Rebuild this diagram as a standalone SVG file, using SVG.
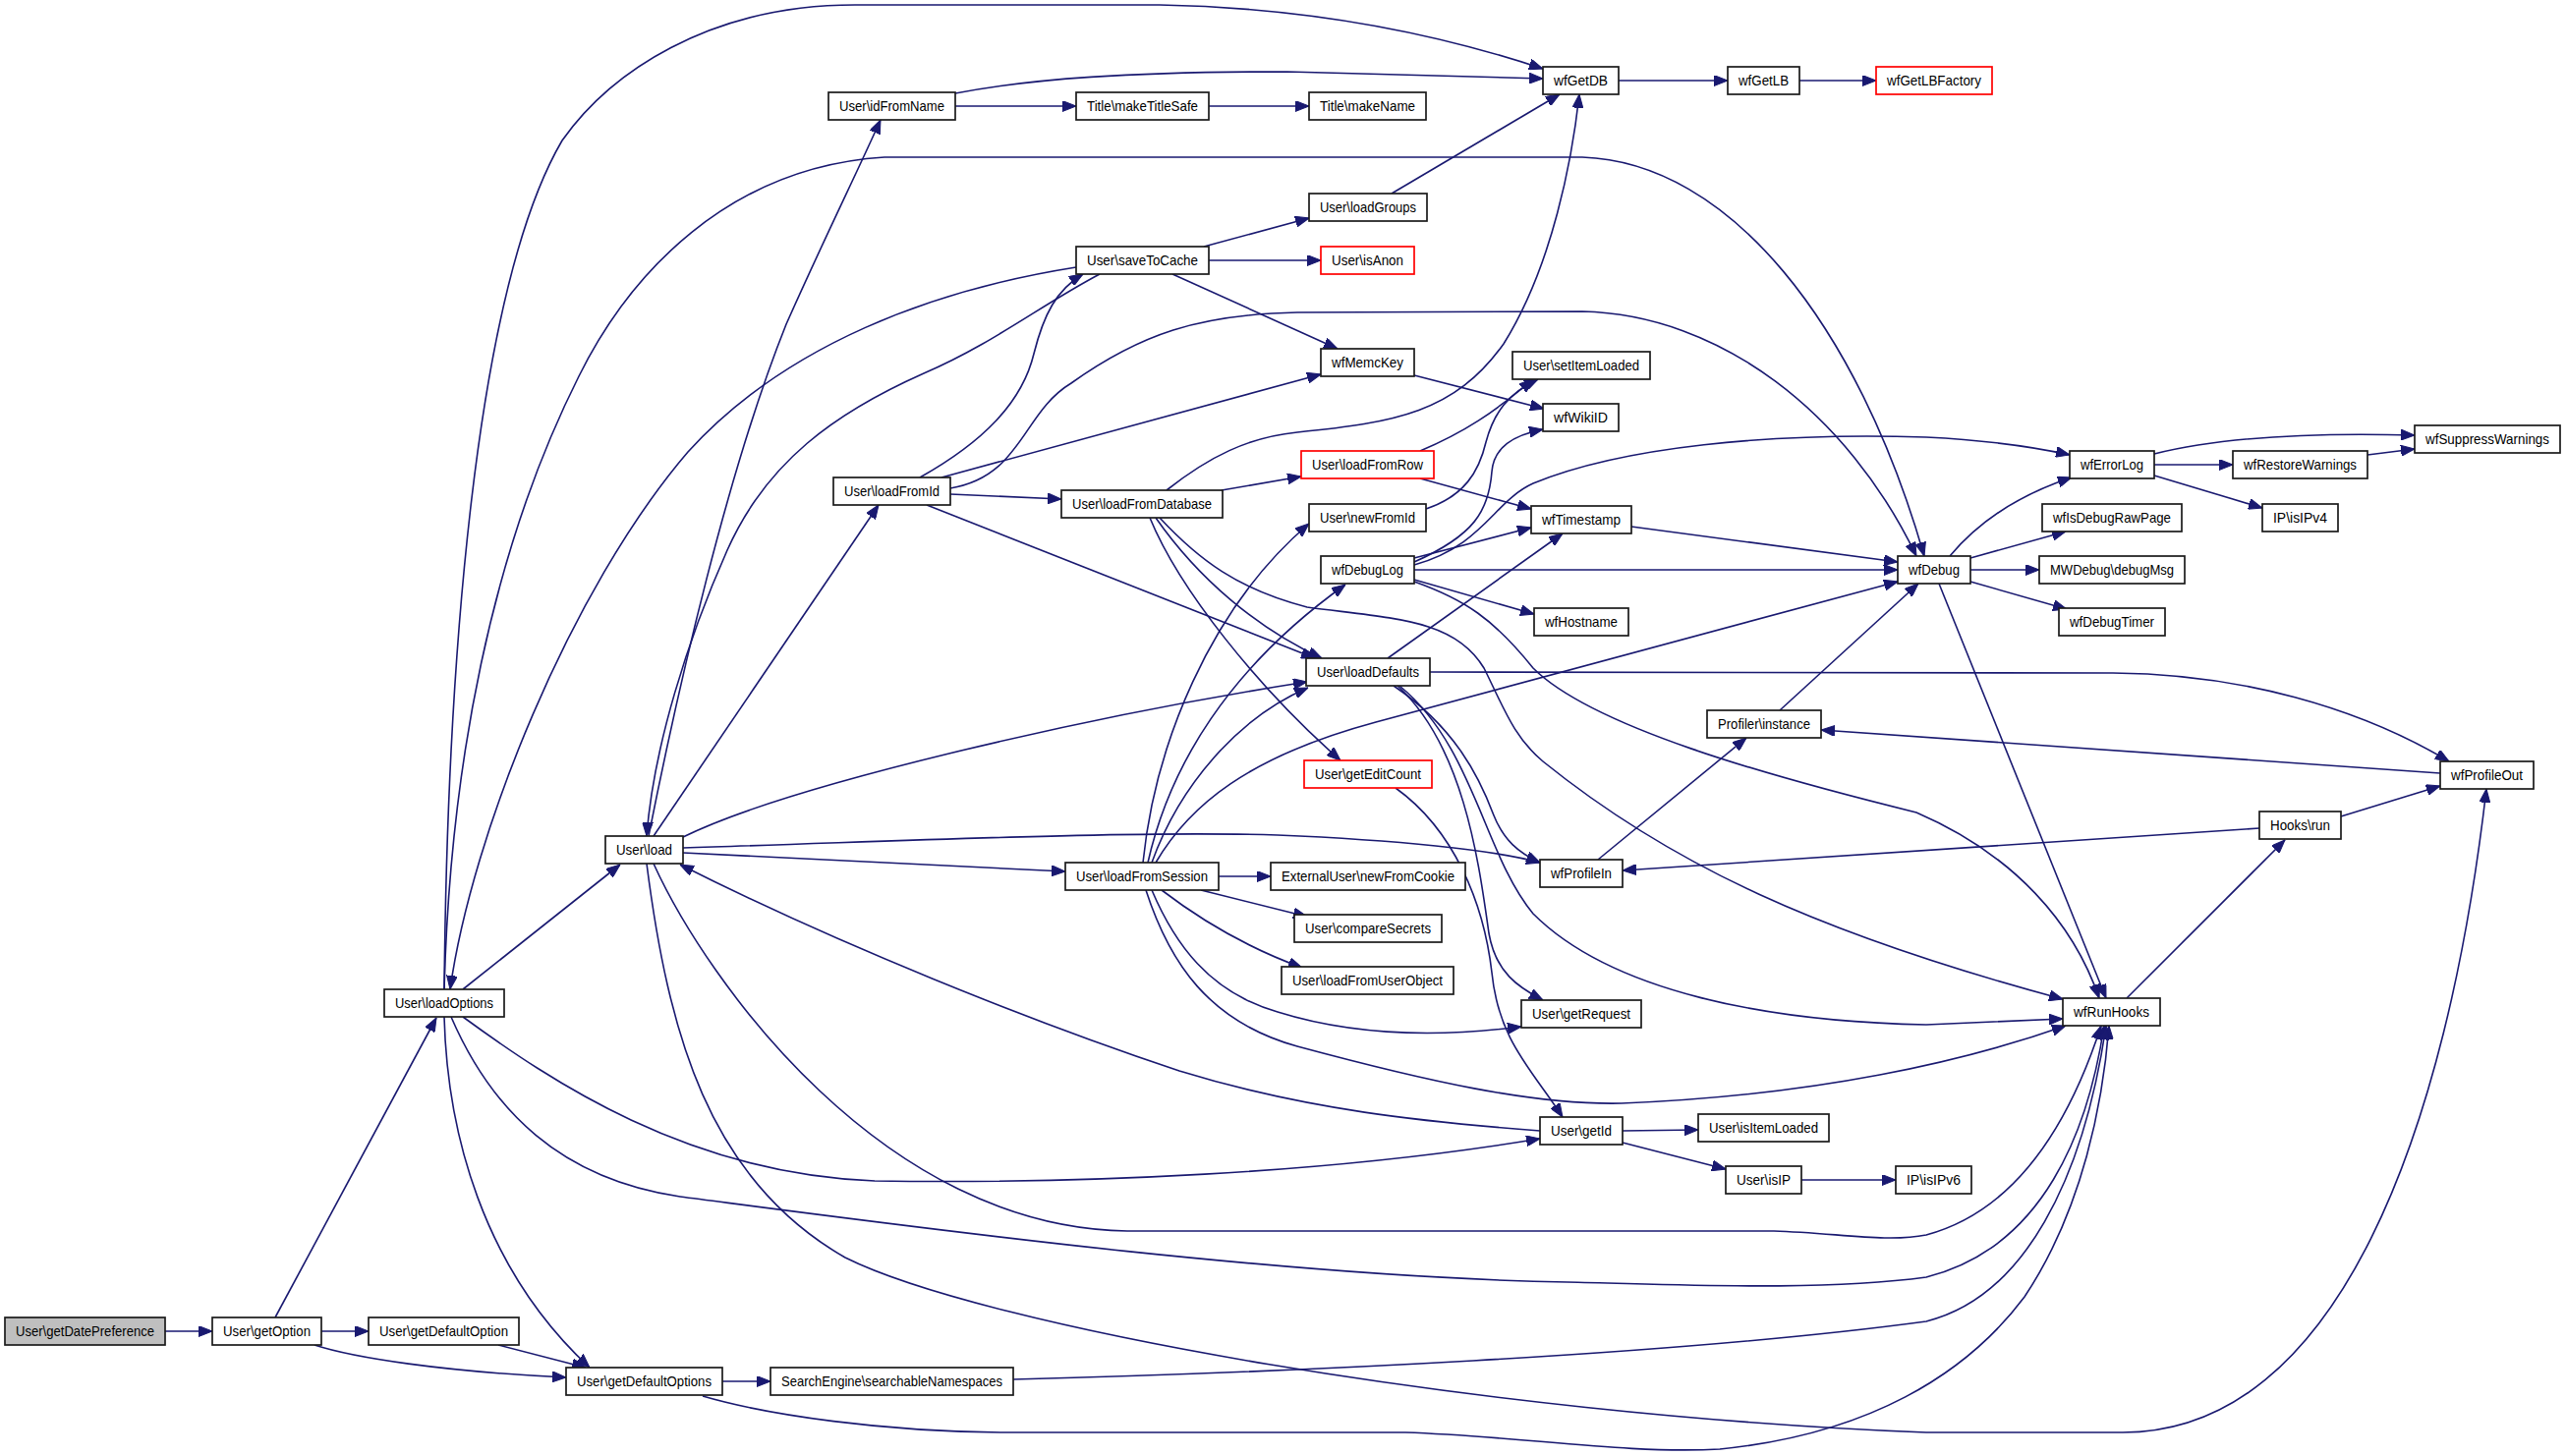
<svg xmlns="http://www.w3.org/2000/svg" width="2611" height="1482" viewBox="0 0 2611 1482">
<style>
.node rect{fill:#fff;stroke:#1a1a1a;stroke-width:1.7}
.node.red rect{stroke:#ff0000}
.node.root rect{fill:#bfbfbf}
.node text{font-family:"Liberation Sans",Arial,sans-serif;font-size:14.5px;fill:#000;text-anchor:middle}
.edges path{fill:none;stroke:#191970;stroke-width:1.6;marker-end:url(#arr)}
</style>
<defs>
<marker id="arr" markerUnits="userSpaceOnUse" markerWidth="14" markerHeight="11" refX="14" refY="5.5" orient="auto" viewBox="0 0 14 11">
<path d="M0,0 L14,5.5 L0,11 Z" fill="#191970" stroke="#191970" stroke-width="1"/>
</marker>
</defs>
<rect x="0" y="0" width="2611" height="1482" fill="#fff"/>
<g class="edges" id="edges">
<path d="M168,1355 L216,1355"/>
<path d="M280,1341 L444,1036"/>
<path d="M327,1355 L375,1355"/>
<path d="M320,1369 C360,1382 450,1396 576,1402"/>
<path d="M507,1369 L596,1392"/>
<path d="M452,1035 C455,1150 490,1290 600,1392"/>
<path d="M735,1406 L784,1406"/>
<path d="M471,1007 L631,880"/>
<path d="M452,1007 C455,700 480,300 572,143 C620,75 720,5 870,5 L1180,5 C1350,8 1480,40 1570,70"/>
<path d="M452,1007 C458,780 500,560 589,383 C640,280 740,170 900,160 L1610,160 C1760,165 1890,330 1958,566"/>
<path d="M471,1035 C560,1100 700,1195 890,1202 C1100,1205 1350,1195 1567,1159"/>
<path d="M459,1035 C500,1130 570,1200 692,1218 C900,1245 1300,1300 1595,1305 C1700,1307 1850,1315 1960,1300 C2080,1270 2125,1150 2141,1044"/>
<path d="M1095,272 C950,295 800,350 700,460 C580,600 480,850 458,1007"/>
<path d="M1119,279 C1060,310 1010,350 940,380 C850,420 780,470 740,560 C700,650 665,760 658,851"/>
<path d="M660,851 C690,700 740,480 800,330 C840,240 870,180 896,122"/>
<path d="M665,851 L894,514"/>
<path d="M695,852 C800,800 1100,730 1330,694"/>
<path d="M695,863 C900,857 1150,845 1300,850 C1420,855 1520,865 1567,878"/>
<path d="M695,868 L1084,887"/>
<path d="M658,879 C680,1050 720,1200 860,1280 C1000,1350 1500,1440 1960,1458 L2160,1458 C2380,1458 2490,1150 2530,803"/>
<path d="M665,879 C720,1000 900,1250 1147,1253 L1805,1253 C1870,1255 1920,1265 1960,1257 C2060,1230 2110,1130 2138,1044"/>
<path d="M1567,1151 C1450,1142 1330,1130 1200,1090 C1050,1040 850,960 692,880"/>
<path d="M936,486 C1000,450 1040,410 1052,360 C1062,320 1075,295 1102,279"/>
<path d="M958,486 L1344,381"/>
<path d="M967,497 C1040,485 1040,420 1090,390 C1160,340 1220,320 1320,318 L1610,317 C1750,320 1880,420 1950,566"/>
<path d="M967,503 L1080,508"/>
<path d="M943,514 L1338,670"/>
<path d="M1225,251 L1332,222"/>
<path d="M1230,265 L1344,265"/>
<path d="M1193,279 L1361,355"/>
<path d="M972,108 L1095,108"/>
<path d="M972,95 C1050,80 1150,73 1310,73 L1570,80"/>
<path d="M1230,108 L1332,108"/>
<path d="M1416,197 L1587,96"/>
<path d="M1647,82 L1758,82"/>
<path d="M1831,82 L1909,82"/>
<path d="M1439,382 L1571,416"/>
<path d="M1187,499 C1230,465 1270,445 1320,440 C1420,430 1480,420 1530,350 C1580,270 1600,160 1607,96"/>
<path d="M1243,499 L1324,485"/>
<path d="M1176,527 C1220,590 1280,640 1345,670"/>
<path d="M1170,527 C1200,600 1280,700 1364,774"/>
<path d="M1180,527 C1220,570 1260,600 1330,618 C1420,630 1480,630 1510,680 C1530,720 1540,750 1570,775 C1700,880 1850,950 2099,1017"/>
<path d="M1439,592 C1490,610 1520,630 1560,680 C1620,740 1800,790 1950,827 C2050,870 2110,940 2136,1016"/>
<path d="M1445,459 C1490,440 1520,420 1560,386"/>
<path d="M1445,487 L1558,518"/>
<path d="M1451,518 C1490,505 1505,480 1512,450 C1520,420 1535,400 1565,386"/>
<path d="M1439,572 C1500,545 1515,520 1518,480 C1520,455 1540,443 1570,437"/>
<path d="M1439,575 C1510,555 1520,510 1560,492 C1650,455 1800,440 1960,445 C2020,448 2070,455 2106,463"/>
<path d="M1439,568 L1558,537"/>
<path d="M1439,580 L1931,580"/>
<path d="M1439,590 L1561,625"/>
<path d="M1660,536 L1931,572"/>
<path d="M1412,670 L1590,543"/>
<path d="M1455,684 L2150,685 C2280,686 2400,720 2492,775"/>
<path d="M1418,698 C1480,740 1505,790 1520,830 C1530,855 1545,868 1567,878"/>
<path d="M1422,698 C1490,760 1505,880 1515,950 C1522,990 1545,1005 1570,1018"/>
<path d="M1424,698 C1500,760 1510,870 1560,930 C1640,1010 1800,1040 1960,1043 L2099,1037"/>
<path d="M1420,802 C1480,845 1510,920 1518,990 C1525,1060 1560,1090 1590,1137"/>
<path d="M1163,878 C1175,760 1230,620 1332,533"/>
<path d="M1168,878 C1190,780 1250,680 1369,595"/>
<path d="M1172,878 C1200,800 1260,730 1331,700"/>
<path d="M1176,878 C1210,820 1270,770 1400,735 L1931,592"/>
<path d="M1240,892 L1293,892"/>
<path d="M1222,906 L1330,933"/>
<path d="M1182,906 C1220,935 1270,965 1325,985"/>
<path d="M1172,906 C1195,960 1230,1010 1300,1030 C1380,1055 1470,1055 1548,1045"/>
<path d="M1166,906 C1190,980 1230,1040 1320,1065 C1450,1100 1560,1125 1650,1123 C1850,1115 2000,1080 2102,1044"/>
<path d="M1651,1151 L1728,1150"/>
<path d="M1651,1163 L1756,1190"/>
<path d="M1833,1201 L1929,1201"/>
<path d="M1626,875 L1777,751"/>
<path d="M2483,787 L1853,743"/>
<path d="M1811,723 L1952,594"/>
<path d="M2299,843 L1651,886"/>
<path d="M2382,831 L2483,800"/>
<path d="M2164,1016 L2325,855"/>
<path d="M1984,566 C2010,535 2050,505 2108,486"/>
<path d="M2005,568 L2102,541"/>
<path d="M2005,580 L2075,580"/>
<path d="M2005,592 L2103,620"/>
<path d="M1973,594 L2143,1016"/>
<path d="M2192,462 C2260,445 2350,440 2457,443"/>
<path d="M2192,473 L2272,473"/>
<path d="M2192,484 L2302,517"/>
<path d="M2409,463 L2457,457"/>
<path d="M715,1421 C780,1440 900,1458 1030,1458 L1430,1458 C1550,1462 1650,1480 1750,1475 C1900,1460 2000,1400 2060,1320 C2120,1230 2140,1120 2146,1044"/>
<path d="M1031,1404 C1300,1397 1700,1380 1960,1345 C2060,1320 2120,1200 2143,1044"/>
</g>
<g id="n_getDatePreference" class="node root"><rect x="5" y="1341" width="163" height="28"/><text x="86.5" y="1360" textLength="141" lengthAdjust="spacingAndGlyphs">User\getDatePreference</text></g>
<g id="n_getOption" class="node"><rect x="216" y="1341" width="111" height="28"/><text x="271.5" y="1360" textLength="89" lengthAdjust="spacingAndGlyphs">User\getOption</text></g>
<g id="n_getDefaultOption" class="node"><rect x="375" y="1341" width="153" height="28"/><text x="451.5" y="1360" textLength="131" lengthAdjust="spacingAndGlyphs">User\getDefaultOption</text></g>
<g id="n_getDefaultOptions" class="node"><rect x="576" y="1392" width="159" height="28"/><text x="655.5" y="1411" textLength="137" lengthAdjust="spacingAndGlyphs">User\getDefaultOptions</text></g>
<g id="n_searchableNamespaces" class="node"><rect x="784" y="1392" width="247" height="28"/><text x="907.5" y="1411" textLength="225" lengthAdjust="spacingAndGlyphs">SearchEngine\searchableNamespaces</text></g>
<g id="n_loadOptions" class="node"><rect x="391" y="1007" width="122" height="28"/><text x="452" y="1026" textLength="100" lengthAdjust="spacingAndGlyphs">User\loadOptions</text></g>
<g id="n_load" class="node"><rect x="616" y="851" width="79" height="28"/><text x="655.5" y="870" textLength="57" lengthAdjust="spacingAndGlyphs">User\load</text></g>
<g id="n_idFromName" class="node"><rect x="843" y="94" width="129" height="28"/><text x="907.5" y="113" textLength="107" lengthAdjust="spacingAndGlyphs">User\idFromName</text></g>
<g id="n_makeTitleSafe" class="node"><rect x="1095" y="94" width="135" height="28"/><text x="1162.5" y="113" textLength="113" lengthAdjust="spacingAndGlyphs">Title\makeTitleSafe</text></g>
<g id="n_makeName" class="node"><rect x="1332" y="94" width="119" height="28"/><text x="1391.5" y="113" textLength="97" lengthAdjust="spacingAndGlyphs">Title\makeName</text></g>
<g id="n_wfGetDB" class="node"><rect x="1570" y="68" width="77" height="28"/><text x="1608.5" y="87" textLength="55" lengthAdjust="spacingAndGlyphs">wfGetDB</text></g>
<g id="n_wfGetLB" class="node"><rect x="1758" y="68" width="73" height="28"/><text x="1794.5" y="87" textLength="51" lengthAdjust="spacingAndGlyphs">wfGetLB</text></g>
<g id="n_wfGetLBFactory" class="node red"><rect x="1909" y="68" width="118" height="28"/><text x="1968" y="87" textLength="96" lengthAdjust="spacingAndGlyphs">wfGetLBFactory</text></g>
<g id="n_saveToCache" class="node"><rect x="1095" y="251" width="135" height="28"/><text x="1162.5" y="270" textLength="113" lengthAdjust="spacingAndGlyphs">User\saveToCache</text></g>
<g id="n_loadGroups" class="node"><rect x="1332" y="197" width="120" height="28"/><text x="1392" y="216" textLength="98" lengthAdjust="spacingAndGlyphs">User\loadGroups</text></g>
<g id="n_isAnon" class="node red"><rect x="1344" y="251" width="95" height="28"/><text x="1391.5" y="270" textLength="73" lengthAdjust="spacingAndGlyphs">User\isAnon</text></g>
<g id="n_wfMemcKey" class="node"><rect x="1344" y="355" width="95" height="28"/><text x="1391.5" y="374" textLength="73" lengthAdjust="spacingAndGlyphs">wfMemcKey</text></g>
<g id="n_setItemLoaded" class="node"><rect x="1539" y="358" width="140" height="28"/><text x="1609" y="377" textLength="118" lengthAdjust="spacingAndGlyphs">User\setItemLoaded</text></g>
<g id="n_wfWikiID" class="node"><rect x="1570" y="411" width="77" height="28"/><text x="1608.5" y="430" textLength="55" lengthAdjust="spacingAndGlyphs">wfWikiID</text></g>
<g id="n_loadFromId" class="node"><rect x="848" y="486" width="119" height="28"/><text x="907.5" y="505" textLength="97" lengthAdjust="spacingAndGlyphs">User\loadFromId</text></g>
<g id="n_loadFromDatabase" class="node"><rect x="1080" y="499" width="164" height="28"/><text x="1162" y="518" textLength="142" lengthAdjust="spacingAndGlyphs">User\loadFromDatabase</text></g>
<g id="n_loadFromRow" class="node red"><rect x="1324" y="459" width="135" height="28"/><text x="1391.5" y="478" textLength="113" lengthAdjust="spacingAndGlyphs">User\loadFromRow</text></g>
<g id="n_newFromId" class="node"><rect x="1332" y="513" width="119" height="28"/><text x="1391.5" y="532" textLength="97" lengthAdjust="spacingAndGlyphs">User\newFromId</text></g>
<g id="n_wfTimestamp" class="node"><rect x="1558" y="515" width="102" height="28"/><text x="1609" y="534" textLength="80" lengthAdjust="spacingAndGlyphs">wfTimestamp</text></g>
<g id="n_wfDebugLog" class="node"><rect x="1344" y="566" width="95" height="28"/><text x="1391.5" y="585" textLength="73" lengthAdjust="spacingAndGlyphs">wfDebugLog</text></g>
<g id="n_wfHostname" class="node"><rect x="1561" y="619" width="96" height="28"/><text x="1609" y="638" textLength="74" lengthAdjust="spacingAndGlyphs">wfHostname</text></g>
<g id="n_loadDefaults" class="node"><rect x="1329" y="670" width="126" height="28"/><text x="1392" y="689" textLength="104" lengthAdjust="spacingAndGlyphs">User\loadDefaults</text></g>
<g id="n_getEditCount" class="node red"><rect x="1327" y="774" width="130" height="28"/><text x="1392" y="793" textLength="108" lengthAdjust="spacingAndGlyphs">User\getEditCount</text></g>
<g id="n_loadFromSession" class="node"><rect x="1084" y="878" width="156" height="28"/><text x="1162" y="897" textLength="134" lengthAdjust="spacingAndGlyphs">User\loadFromSession</text></g>
<g id="n_newFromCookie" class="node"><rect x="1293" y="878" width="198" height="28"/><text x="1392" y="897" textLength="176" lengthAdjust="spacingAndGlyphs">ExternalUser\newFromCookie</text></g>
<g id="n_compareSecrets" class="node"><rect x="1317" y="931" width="150" height="28"/><text x="1392" y="950" textLength="128" lengthAdjust="spacingAndGlyphs">User\compareSecrets</text></g>
<g id="n_loadFromUserObject" class="node"><rect x="1304" y="984" width="175" height="28"/><text x="1391.5" y="1003" textLength="153" lengthAdjust="spacingAndGlyphs">User\loadFromUserObject</text></g>
<g id="n_getRequest" class="node"><rect x="1548" y="1018" width="122" height="28"/><text x="1609" y="1037" textLength="100" lengthAdjust="spacingAndGlyphs">User\getRequest</text></g>
<g id="n_getId" class="node"><rect x="1567" y="1137" width="84" height="28"/><text x="1609" y="1156" textLength="62" lengthAdjust="spacingAndGlyphs">User\getId</text></g>
<g id="n_isItemLoaded" class="node"><rect x="1728" y="1134" width="133" height="28"/><text x="1794.5" y="1153" textLength="111" lengthAdjust="spacingAndGlyphs">User\isItemLoaded</text></g>
<g id="n_isIP" class="node"><rect x="1756" y="1187" width="77" height="28"/><text x="1794.5" y="1206" textLength="55" lengthAdjust="spacingAndGlyphs">User\isIP</text></g>
<g id="n_isIPv6" class="node"><rect x="1929" y="1187" width="77" height="28"/><text x="1967.5" y="1206" textLength="55" lengthAdjust="spacingAndGlyphs">IP\isIPv6</text></g>
<g id="n_wfProfileIn" class="node"><rect x="1567" y="875" width="84" height="28"/><text x="1609" y="894" textLength="62" lengthAdjust="spacingAndGlyphs">wfProfileIn</text></g>
<g id="n_profilerInstance" class="node"><rect x="1737" y="723" width="116" height="28"/><text x="1795" y="742" textLength="94" lengthAdjust="spacingAndGlyphs">Profiler\instance</text></g>
<g id="n_wfDebug" class="node"><rect x="1931" y="566" width="74" height="28"/><text x="1968" y="585" textLength="52" lengthAdjust="spacingAndGlyphs">wfDebug</text></g>
<g id="n_wfIsDebugRawPage" class="node"><rect x="2078" y="513" width="142" height="28"/><text x="2149" y="532" textLength="120" lengthAdjust="spacingAndGlyphs">wfIsDebugRawPage</text></g>
<g id="n_debugMsg" class="node"><rect x="2075" y="566" width="148" height="28"/><text x="2149" y="585" textLength="126" lengthAdjust="spacingAndGlyphs">MWDebug\debugMsg</text></g>
<g id="n_wfDebugTimer" class="node"><rect x="2095" y="619" width="108" height="28"/><text x="2149" y="638" textLength="86" lengthAdjust="spacingAndGlyphs">wfDebugTimer</text></g>
<g id="n_wfErrorLog" class="node"><rect x="2106" y="459" width="86" height="28"/><text x="2149" y="478" textLength="64" lengthAdjust="spacingAndGlyphs">wfErrorLog</text></g>
<g id="n_wfRestoreWarnings" class="node"><rect x="2272" y="459" width="137" height="28"/><text x="2340.5" y="478" textLength="115" lengthAdjust="spacingAndGlyphs">wfRestoreWarnings</text></g>
<g id="n_wfSuppressWarnings" class="node"><rect x="2457" y="433" width="148" height="28"/><text x="2531" y="452" textLength="126" lengthAdjust="spacingAndGlyphs">wfSuppressWarnings</text></g>
<g id="n_isIPv4" class="node"><rect x="2302" y="513" width="77" height="28"/><text x="2340.5" y="532" textLength="55" lengthAdjust="spacingAndGlyphs">IP\isIPv4</text></g>
<g id="n_wfProfileOut" class="node"><rect x="2483" y="775" width="95" height="28"/><text x="2530.5" y="794" textLength="73" lengthAdjust="spacingAndGlyphs">wfProfileOut</text></g>
<g id="n_hooksRun" class="node"><rect x="2299" y="826" width="83" height="28"/><text x="2340.5" y="845" textLength="61" lengthAdjust="spacingAndGlyphs">Hooks\run</text></g>
<g id="n_wfRunHooks" class="node"><rect x="2099" y="1016" width="99" height="28"/><text x="2148.5" y="1035" textLength="77" lengthAdjust="spacingAndGlyphs">wfRunHooks</text></g>
</svg>
